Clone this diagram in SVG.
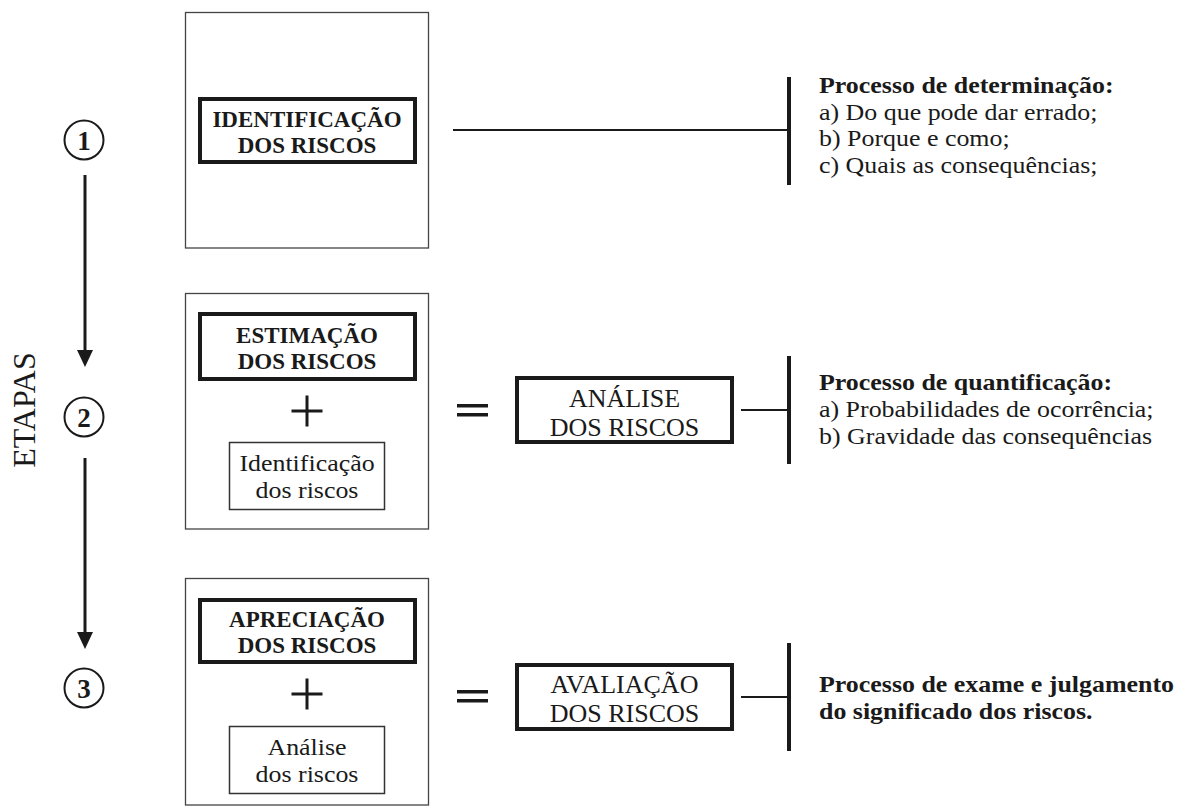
<svg xmlns="http://www.w3.org/2000/svg" width="1184" height="808" viewBox="0 0 1184 808">
<style>
text{font-family:"Liberation Serif","Times New Roman",serif;fill:#1a1a1a}
.b{font-weight:bold}
.mid{text-anchor:middle}
.outer{fill:none;stroke:#444;stroke-width:1.3}
.thick{fill:#fff;stroke:#1a1a1a;stroke-width:4}
.small{fill:#fff;stroke:#333;stroke-width:1.5}
.bar{fill:#1a1a1a}
.conn{stroke:#1a1a1a;stroke-width:1.8;fill:none}
.arrow{stroke:#1a1a1a;stroke-width:3;fill:none}
.circ{fill:#fff;stroke:#1a1a1a;stroke-width:2}
.t26{font-size:26px}
.t24{font-size:24px}
.t23{font-size:23px}
.num{font-size:27px;font-weight:bold;text-anchor:middle}
</style>
<defs>
<marker id="ah" viewBox="0 0 17 16" refX="5" refY="8" markerWidth="17" markerHeight="16" markerUnits="userSpaceOnUse" orient="auto">
<path d="M0,0 L17,8 L0,16 z" fill="#1a1a1a"/>
</marker>
</defs>
<rect width="1184" height="808" fill="#fff"/>

<text class="mid" style="font-size:32px" transform="translate(35,410) rotate(-90)">ETAPAS</text>

<g id="connectors">
<line class="arrow" x1="85" y1="175" x2="85" y2="355" marker-end="url(#ah)"/>
<line class="arrow" x1="85" y1="458" x2="85" y2="637" marker-end="url(#ah)"/>
<line class="conn" x1="453" y1="130" x2="789" y2="130"/>
<line class="conn" x1="741" y1="410" x2="789" y2="410"/>
<line class="conn" x1="741" y1="697" x2="789" y2="697"/>
</g>

<g id="step1">
<circle class="circ" cx="84" cy="140" r="19.5"/>
<text class="num" x="84" y="149.5">1</text>
</g>
<g id="step2">
<circle class="circ" cx="84" cy="417" r="19.5"/>
<text class="num" x="84" y="426.5">2</text>
</g>
<g id="step3">
<circle class="circ" cx="84" cy="688" r="19.5"/>
<text class="num" x="84" y="697.5">3</text>
</g>

<g id="box1">
<rect class="outer" x="185.5" y="12.5" width="243" height="235.5"/>
<rect class="thick" x="200" y="99" width="215" height="63"/>
<text class="b t23 mid"><tspan x="307" y="127">IDENTIFICAÇÃO</tspan><tspan x="307" y="153">DOS RISCOS</tspan></text>
</g>

<g id="box2">
<rect class="outer" x="185.5" y="293.5" width="243" height="235.5"/>
<rect class="thick" x="200" y="314" width="215" height="65"/>
<text class="b t23 mid"><tspan x="307" y="343">ESTIMAÇÃO</tspan><tspan x="307" y="369">DOS RISCOS</tspan></text>
<path d="M291.5,411 H322.5 M307,395.5 V426.5" stroke="#1a1a1a" stroke-width="3"/>
<rect class="small" x="229.5" y="442.5" width="155" height="67"/>
<text class="t24 mid" transform="translate(307,0) scale(1.08,1)"><tspan x="0" y="471">Identificação</tspan><tspan x="0" y="498">dos riscos</tspan></text>
</g>

<g id="box3">
<rect class="outer" x="185.5" y="578.5" width="243" height="226.5"/>
<rect class="thick" x="200" y="600" width="215" height="62"/>
<text class="b t23 mid"><tspan x="307" y="627">APRECIAÇÃO</tspan><tspan x="307" y="653">DOS RISCOS</tspan></text>
<path d="M291.5,694 H322.5 M307,678.5 V709.5" stroke="#1a1a1a" stroke-width="3"/>
<rect class="small" x="229.5" y="726.5" width="155" height="67"/>
<text class="t24 mid" transform="translate(307,0) scale(1.08,1)"><tspan x="0" y="755">Análise</tspan><tspan x="0" y="782">dos riscos</tspan></text>
</g>

<g id="equals2">
<rect x="457" y="404" width="31" height="3.5" class="bar"/>
<rect x="457" y="413" width="31" height="3.5" class="bar"/>
</g>
<g id="equals3">
<rect x="457" y="690" width="31" height="3.5" class="bar"/>
<rect x="457" y="699" width="31" height="3.5" class="bar"/>
</g>

<g id="analise">
<rect class="thick" x="517" y="378" width="215" height="64"/>
<text class="t26 mid"><tspan x="624.5" y="407">ANÁLISE</tspan><tspan x="624.5" y="436">DOS RISCOS</tspan></text>
</g>

<g id="avaliacao">
<rect class="thick" x="517" y="665" width="215" height="64"/>
<text class="t26 mid"><tspan x="624.5" y="693">AVALIAÇÃO</tspan><tspan x="624.5" y="722">DOS RISCOS</tspan></text>
</g>

<g id="desc1">
<rect class="bar" x="787" y="77" width="4" height="108"/>
<text class="t24" transform="translate(819,0) scale(1.08,1)"><tspan class="b" x="0" y="93">Processo de determinação:</tspan><tspan x="0" y="119.7">a) Do que pode dar errado;</tspan><tspan x="0" y="146.4">b) Porque e como;</tspan><tspan x="0" y="173">c) Quais as consequências;</tspan></text>
</g>

<g id="desc2">
<rect class="bar" x="787" y="356" width="4" height="108"/>
<text class="t24" transform="translate(819,0) scale(1.08,1)"><tspan class="b" x="0" y="390">Processo de quantificação:</tspan><tspan x="0" y="417">a) Probabilidades de ocorrência;</tspan><tspan x="0" y="444">b) Gravidade das consequências</tspan></text>
</g>

<g id="desc3">
<rect class="bar" x="787" y="643" width="4" height="108"/>
<text class="b t24" transform="translate(819,0) scale(1.08,1)"><tspan x="0" y="692">Processo de exame e julgamento</tspan><tspan x="0" y="719">do significado dos riscos.</tspan></text>
</g>
</svg>
